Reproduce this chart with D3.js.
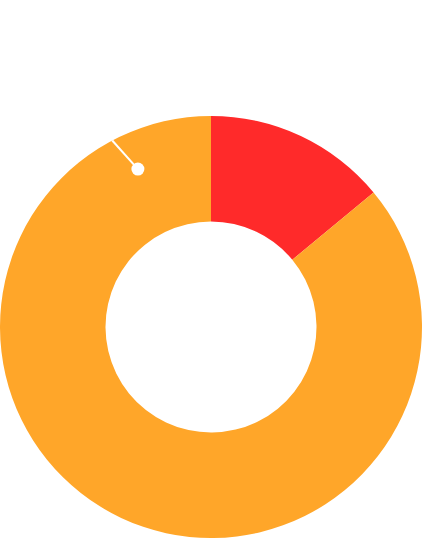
<!DOCTYPE html>
<html>
<head>
<meta charset="utf-8">
<script src="https://cdn.jsdelivr.net/npm/d3@7"></script>
<style>
  html, body { margin: 0; padding: 0; background: #fff; }
</style>
</head>
<body>
<div id="chart-area"></div>
<script>
// slice data
const categories = ["A", "B"]
const values = [14, 86]
const colors = ["#ff2a2a", "#ffa629"]

// pointer mark, given in value units along the ring (0..100)
const pointerFrom = [92.25]
const pointerTo = [93.1]

const width = 422
const height = 538
const cx = 211, cy = 327
const outerR = 211, innerR = 105.5

const svg = d3.select("#chart-area").append("svg")
    .attr("width", width)
    .attr("height", height)

const g = svg.append("g")
    .attr("transform", `translate(${cx},${cy})`)

const pie = d3.pie().sort(null).value(d => d)
const arc = d3.arc().innerRadius(innerR).outerRadius(outerR)

g.selectAll("path")
    .data(pie(values))
    .enter().append("path")
    .attr("d", arc)
    .attr("fill", (d, i) => colors[i])

// angle scale for the pointer
const total = d3.sum(values)
const angle = d3.scaleLinear().domain([0, total]).range([0, 2 * Math.PI])
const pt = (v, r) => [Math.sin(angle(v)) * r, -Math.cos(angle(v)) * r]

const p1 = pt(pointerFrom[0], outerR)
const p2 = pt(pointerTo[0], 174)

g.append("line")
    .attr("x1", p1[0]).attr("y1", p1[1])
    .attr("x2", p2[0]).attr("y2", p2[1])
    .attr("stroke", "#fff")
    .attr("stroke-width", 2)

g.append("circle")
    .attr("cx", p2[0]).attr("cy", p2[1])
    .attr("r", 6.5)
    .attr("fill", "#fff")
</script>
</body>
</html>
